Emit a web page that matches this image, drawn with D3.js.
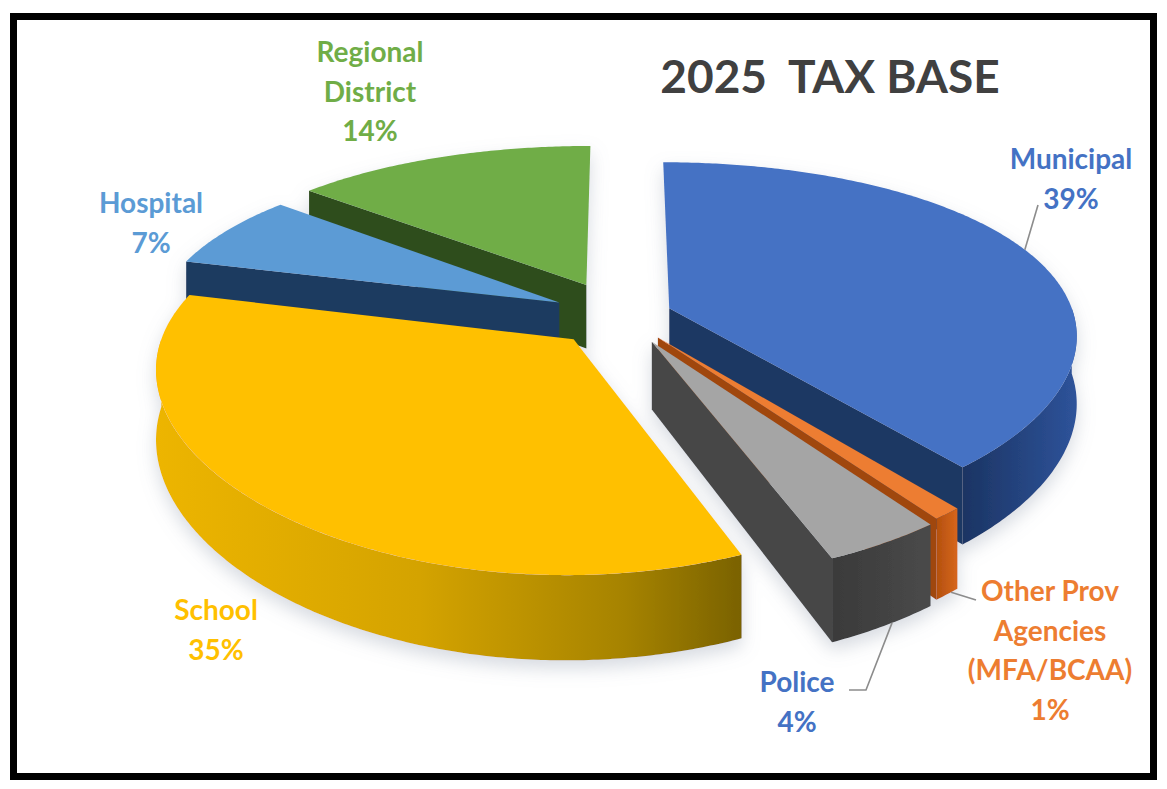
<!DOCTYPE html>
<html>
<head>
<meta charset="utf-8">
<script src="https://cdn.jsdelivr.net/npm/d3@7"></script>
<style>
  body { margin: 0; background: #fff; }
  svg { display: block; }
  text { font-family: Lato, "Open Sans", sans-serif; font-weight: bold; }
</style>
</head>
<body>
<svg id="chart" width="1167" height="789"></svg>
<script>
// data, clockwise from 12 o'clock
var sliceNames = ["Municipal", "Other Prov Agencies (MFA/BCAA)", "Police", "School", "Hospital", "Regional District"];
var sharePct = [39, 1, 4, 35, 7, 14];
var labelNameLines = [["Municipal"], ["Other Prov", "Agencies", "(MFA/BCAA)"], ["Police"], ["School"], ["Hospital"], ["Regional", "District"]];
var chartTitle = "2025  TAX BASE";

// look
var topColors = ["#4472C4", "#ED7D31", "#A5A5A5", "#FFC000", "#5B9BD5", "#70AD47"];
var cutColors = ["#1F3864", "#A0460F", "#474747", "#8F6E00", "#1F3A60", "#2F4D1E"];
var wallStops = [["#1B3463", "#2E539A"], ["#B4500E", "#D6661C"], ["#3A3A3A", "#4A4A4A"],
                 ["#EDB500", "#7A6200"], ["#1F3A60", "#2E5A90"], ["#2F4D1E", "#4E7F2F"]];
var labelColors = ["#4472C4", "#ED7D31", "#4472C4", "#FFC000", "#5B9BD5", "#70AD47"];
var explode = [0.13, 0.15, 0.16, 0.17, 0.17, 0.2];
var labelPos = [[1071, 169], [1050, 601], [797, 692], [216, 620], [151, 213], [370, 62]];
var lineGap = 39.5;

// leader lines: slice, rim angle (deg), 0 top / 1 bottom, then the bend points
var leaders = [
    {i: 0, deg: 69, h: 0, pts: [[1038, 205]]},
    {i: 1, deg: 141.5, h: 1, pts: [[976, 600]]},
    {i: 2, deg: 150, h: 1, pts: [[866, 690], [849, 690]]}
];

// tilted view: horizontal + vertical squash with a bit of perspective
var cx = 620, cy = 316, kx = 405, ky = 178, bx = 0.14, by = 0.2, depth = 66;
function project(u, v, h) {
    return [cx + kx * u / (1 - bx * v), cy + (ky * v + depth * h) / (1 - by * v)];
}

var svg = d3.select("#chart");
var defs = svg.append("defs");

var shadow = defs.append("filter").attr("id", "glow")
    .attr("x", "-10%").attr("y", "-10%").attr("width", "120%").attr("height", "130%");
shadow.append("feDropShadow").attr("dx", 0).attr("dy", 8).attr("stdDeviation", 9)
    .attr("flood-color", "#8a94a8").attr("flood-opacity", 0.35);

wallStops.forEach(function (s, i) {
    var g = defs.append("linearGradient").attr("id", "wall" + i)
        .attr("x1", "0%").attr("x2", "100%").attr("y1", "0%").attr("y2", "0%");
    g.append("stop").attr("offset", "0%").attr("stop-color", s[0]);
    if (i === 3) {
        g.append("stop").attr("offset", "45%").attr("stop-color", "#D4A300");
        g.append("stop").attr("offset", "80%").attr("stop-color", "#A68300");
    }
    g.append("stop").attr("offset", "100%").attr("stop-color", s[1]);
});

var pie = d3.pie().sort(null).value(function (d) { return d; });
var arcs = pie(sharePct);

var line = d3.line();

function slicePoint(a, i, r, h) {
    var d = arcs[i];
    var mid = (d.startAngle + d.endAngle) / 2;
    var ou = explode[i] * Math.sin(mid), ov = -explode[i] * Math.cos(mid);
    return project(ou + r * Math.sin(a), ov - r * Math.cos(a), h);
}

function rim(i, a0, a1, h) {
    var n = Math.max(2, Math.ceil((a1 - a0) / 0.01));
    return d3.range(n + 1).map(function (k) {
        return slicePoint(a0 + (a1 - a0) * k / n, i, 1, h);
    });
}

// far slices first
var order = d3.range(arcs.length).sort(function (a, b) {
    function key(i) {
        var mid = (arcs[i].startAngle + arcs[i].endAngle) / 2;
        return -(explode[i] + 0.6) * Math.cos(mid);
    }
    return key(a) - key(b);
});

var pieG = svg.append("g").attr("filter", "url(#glow)");

order.forEach(function (i) {
    var d = arcs[i];
    var g = pieG.append("g").attr("class", "slice");
    var a0 = d.startAngle, a1 = d.endAngle;

    // radial cut faces that face the viewer
    if (Math.sin(a0) < -1e-9) {
        g.append("path").attr("fill", cutColors[i])
            .attr("d", line([slicePoint(a0, i, 0, 0), slicePoint(a0, i, 1, 0),
                slicePoint(a0, i, 1, 1), slicePoint(a0, i, 0, 1)]) + "Z");
    }
    if (Math.sin(a1) > 1e-9) {
        g.append("path").attr("fill", cutColors[i])
            .attr("d", line([slicePoint(a1, i, 0, 0), slicePoint(a1, i, 1, 0),
                slicePoint(a1, i, 1, 1), slicePoint(a1, i, 0, 1)]) + "Z");
    }

    // outer wall, front half only
    var w0 = Math.max(a0, Math.PI / 2), w1 = Math.min(a1, Math.PI * 1.5);
    if (w1 > w0) {
        var pts = rim(i, w0, w1, 0).concat(rim(i, w0, w1, 1).reverse());
        g.append("path").attr("fill", "url(#wall" + i + ")").attr("d", line(pts) + "Z");
    }

    // top face
    var top = [slicePoint(a0, i, 0, 0)].concat(rim(i, a0, a1, 0));
    g.append("path").attr("fill", topColors[i]).attr("d", line(top) + "Z");
});

// leader lines
leaders.forEach(function (l) {
    var start = slicePoint(l.deg * Math.PI / 180, l.i, 1, l.h);
    svg.append("path")
        .attr("d", line([start].concat(l.pts)))
        .attr("fill", "none").attr("stroke", "#8c8c8c").attr("stroke-width", 1.6);
});

// labels
arcs.forEach(function (d, i) {
    var lines = labelNameLines[i].concat([sharePct[i] + "%"]);
    var t = svg.append("text")
        .attr("text-anchor", "middle")
        .attr("fill", labelColors[i])
        .attr("font-size", 28);
    lines.forEach(function (s, k) {
        t.append("tspan").attr("x", labelPos[i][0]).attr("y", labelPos[i][1] + k * lineGap).text(s);
    });
});

svg.append("text")
    .attr("x", 830).attr("y", 93)
    .attr("text-anchor", "middle")
    .attr("fill", "#404040")
    .attr("font-size", 46)
    .style("white-space", "pre")
    .attr("xml:space", "preserve")
    .text(chartTitle);

svg.append("rect")
    .attr("x", 13.5).attr("y", 16.5)
    .attr("width", 1140).attr("height", 760)
    .attr("fill", "none").attr("stroke", "#000").attr("stroke-width", 7);
</script>
</body>
</html>
